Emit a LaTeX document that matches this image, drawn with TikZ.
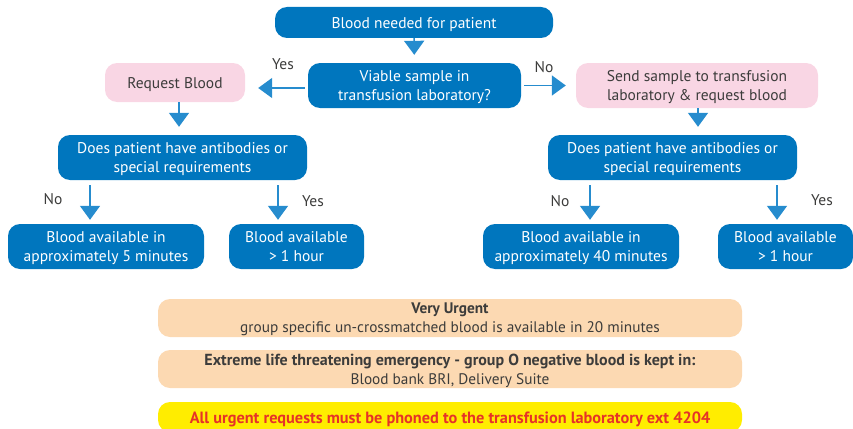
\documentclass[tikz,border=0pt]{standalone}
\usepackage{fontspec}
\setmainfont{PT Sans}
\usepackage{tikz}
\usetikzlibrary{arrows.meta,positioning}
\definecolor{flowblue}{RGB}{0,118,190}
\definecolor{arrblue}{RGB}{38,140,206}
\definecolor{pinkbox}{RGB}{249,214,228}
\definecolor{peach}{RGB}{252,217,178}
\definecolor{warnyel}{RGB}{255,237,0}
\definecolor{warnred}{RGB}{230,50,40}
\definecolor{ink}{RGB}{60,60,59}
\tikzset{
  box/.style={rounded corners=12pt, align=center, inner sep=0pt, font=\fontsize{15.5}{19}\selectfont,
    execute at begin node={\rule{0pt}{15.5pt}}},
  tall/.style={minimum height=45pt, text depth=-1.5pt},
  bluebox/.style={box, fill=flowblue, text=white},
  pinkbx/.style={box, fill=pinkbox, text=ink},
  notebox/.style={box, fill=peach, text=ink, minimum width=584pt, minimum height=38pt, font=\fontsize{15.3}{19}\selectfont},
  arr/.style={draw=arrblue, line width=1.6pt, -{Triangle[width=20pt,length=14pt]}},
  lbl/.style={text=ink, font=\fontsize{15.5}{16}\selectfont}
}
\begin{document}
\begin{tikzpicture}[x=1pt,y=-1pt]
  \clip (0,0) rectangle (853,428);
  \node[bluebox, minimum width=278pt, minimum height=31pt] (need) at (414,22.5) {Blood needed for patient};
  \node[bluebox, tall, minimum width=213pt] (viable) at (414.5,85.5) {Viable sample in\\transfusion laboratory?};
  \node[pinkbx, minimum width=140pt, minimum height=39pt] (req) at (175,82.5) {Request Blood};
  \node[pinkbx, tall, minimum width=242pt] (send) at (697,85.5) {Send sample to transfusion\\laboratory \& request blood};
  \node[bluebox, tall, minimum width=249pt] (askL) at (182.5,157.5) {Does patient have antibodies or\\special requirements};
  \node[bluebox, tall, minimum width=249pt] (askR) at (672.5,157.5) {Does patient have antibodies or\\special requirements};
  \node[bluebox, tall, minimum width=196pt] (fiveL) at (106,246.5) {Blood available in\\approximately 5 minutes};
  \node[bluebox, tall, minimum width=135pt] (hourL) at (296.5,246.5) {Blood available\\> 1 hour};
  \node[bluebox, tall, minimum width=196pt] (fortyR) at (581,246.5) {Blood available in\\approximately 40 minutes};
  \node[bluebox, tall, minimum width=135pt] (hourR) at (785.5,246.5) {Blood available\\> 1 hour};

  \draw[arr, shorten >=8pt] (need) -- (viable);
  \draw[arr, shorten <=3pt, shorten >=13pt] (viable.west |- 0,88) -- (req.east |- 0,88);
  \draw[arr, shorten <=3pt, shorten >=10pt] (viable.east) -- (send.west);
  \draw[arr, shorten >=8pt] (req.south -| 179,0) -- (askL.north -| 179,0);
  \draw[arr, shorten >=8pt] (send.south -| 698,0) -- (askR.north -| 698,0);
  \foreach \src/\dst/\x in {askL/fiveL/90, askL/hourL/278, askR/fortyR/590, askR/hourR/777}
    \draw[arr, shorten <=5pt, shorten >=4pt] (\src.south -| \x,0) -- (\dst.north -| \x,0);

  \node[lbl] (yes1) at (283,64) {Yes};
  \node[lbl] (no1) at (544,67) {No};
  \node[lbl] (no2) at (53,199) {No};
  \node[lbl] (yes2) at (313,201) {Yes};
  \node[lbl] (no3) at (560,201) {No};
  \node[lbl] (yes3) at (822,200) {Yes};

  \node[notebox, tall, minimum height=38pt] (urgent) at (450,318) {\textbf{Very Urgent}\\group specific un-crossmatched blood is available in 20 minutes};
  \node[notebox, tall, minimum height=38pt] (extreme) at (450,369) {\textbf{\fontsize{16}{19}\selectfont Extreme life threatening emergency - group O negative blood is kept in:}\\Blood bank BRI, Delivery Suite};
  \node[notebox, fill=warnyel, text=warnred, minimum height=30pt, font=\fontsize{16.3}{19}\selectfont\bfseries] (phone) at (450,417) {All urgent requests must be phoned to the transfusion laboratory ext 4204};
\end{tikzpicture}
\end{document}
